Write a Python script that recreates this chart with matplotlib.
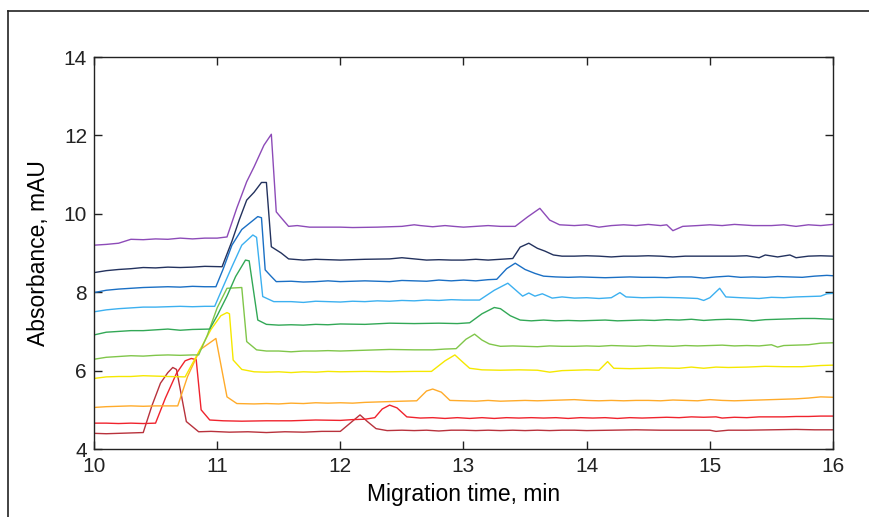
import matplotlib
matplotlib.use("Agg")
from matplotlib import pyplot as plt
from matplotlib.lines import Line2D

plt.rcParams['font.family'] = ['Liberation Sans', 'DejaVu Sans']

# migration time (min) / absorbance (mAU), one pair per run, bottom to top
t_darkred = [10.0, 10.1, 10.2, 10.3, 10.4, 10.47, 10.54, 10.6, 10.64, 10.67, 10.75, 10.85, 10.95, 11.1, 11.25,
             11.4, 11.55, 11.7, 11.85, 12.0, 12.08, 12.16, 12.22, 12.29, 12.38, 12.5, 12.6, 12.7, 12.8, 12.9,
             13.0, 13.1, 13.2, 13.3, 13.4, 13.5, 13.6, 13.7, 13.8, 13.9, 14.0, 14.2, 14.4, 14.6, 14.8, 15.0,
             15.05, 15.15, 15.3, 15.5, 15.7, 15.85, 16.0]
a_darkred = [4.40, 4.39, 4.40, 4.41, 4.42, 5.1, 5.68, 5.95, 6.08, 6.03, 4.70, 4.44, 4.45, 4.43, 4.44,
             4.42, 4.44, 4.43, 4.45, 4.45, 4.66, 4.87, 4.70, 4.52, 4.47, 4.48, 4.47, 4.48, 4.46, 4.48,
             4.48, 4.47, 4.48, 4.47, 4.48, 4.47, 4.48, 4.47, 4.48, 4.48, 4.47, 4.48, 4.49, 4.48, 4.48, 4.48,
             4.45, 4.48, 4.48, 4.49, 4.50, 4.49, 4.49]

t_red = [10.0, 10.1, 10.2, 10.3, 10.4, 10.5, 10.58, 10.67, 10.74, 10.79, 10.83, 10.87, 10.94, 11.05, 11.2,
         11.4, 11.6, 11.8, 12.0, 12.1, 12.2, 12.28, 12.34, 12.40, 12.46, 12.54, 12.65, 12.75, 12.85, 12.95,
         13.05, 13.15, 13.25, 13.35, 13.45, 13.55, 13.65, 13.75, 13.85, 13.95, 14.05, 14.15, 14.25, 14.35,
         14.45, 14.55, 14.65, 14.75, 14.85, 14.95, 15.05, 15.1, 15.2, 15.3, 15.4, 15.5, 15.6, 15.7, 15.8,
         15.9, 16.0]
a_red = [4.66, 4.66, 4.65, 4.66, 4.65, 4.66, 5.3, 5.93, 6.25, 6.31, 6.28, 5.0, 4.74, 4.72, 4.71,
         4.72, 4.72, 4.74, 4.73, 4.75, 4.76, 4.80, 5.02, 5.12, 5.05, 4.82, 4.79, 4.80, 4.78, 4.80,
         4.78, 4.80, 4.78, 4.80, 4.79, 4.80, 4.79, 4.80, 4.78, 4.80, 4.79, 4.80, 4.78, 4.80,
         4.79, 4.80, 4.81, 4.80, 4.82, 4.81, 4.82, 4.79, 4.81, 4.80, 4.82, 4.82, 4.82, 4.83, 4.83,
         4.84, 4.84]

t_orange = [10.0, 10.1, 10.2, 10.3, 10.4, 10.5, 10.6, 10.68, 10.76, 10.86, 10.99, 11.08, 11.16, 11.3, 11.4,
            11.5, 11.6, 11.7, 11.8, 11.9, 12.0, 12.1, 12.2, 12.3, 12.4, 12.5, 12.62, 12.7, 12.75, 12.82,
            12.89, 13.0, 13.1, 13.2, 13.3, 13.4, 13.5, 13.6, 13.7, 13.8, 13.9, 14.0, 14.1, 14.2, 14.3,
            14.4, 14.5, 14.6, 14.7, 14.8, 14.9, 15.0, 15.1, 15.2, 15.3, 15.4, 15.5, 15.6, 15.7, 15.8,
            15.9, 16.0]
a_orange = [5.06, 5.08, 5.09, 5.10, 5.09, 5.10, 5.10, 5.10, 5.85, 6.53, 6.82, 5.33, 5.16, 5.15, 5.16,
            5.15, 5.17, 5.16, 5.18, 5.17, 5.18, 5.17, 5.19, 5.20, 5.21, 5.22, 5.23, 5.48, 5.53, 5.45,
            5.24, 5.23, 5.22, 5.24, 5.22, 5.23, 5.24, 5.23, 5.24, 5.25, 5.26, 5.24, 5.23, 5.24, 5.23,
            5.24, 5.24, 5.23, 5.25, 5.24, 5.23, 5.26, 5.24, 5.23, 5.24, 5.25, 5.26, 5.27, 5.28, 5.30,
            5.33, 5.32]

t_yellow = [10.0, 10.1, 10.2, 10.3, 10.4, 10.5, 10.6, 10.74, 10.86, 10.95, 11.03, 11.08, 11.1, 11.13, 11.2,
            11.3, 11.4, 11.5, 11.6, 11.7, 11.8, 11.9, 12.0, 12.2, 12.4, 12.6, 12.74, 12.85, 12.93, 13.0,
            13.05, 13.15, 13.3, 13.45, 13.6, 13.7, 13.8, 13.9, 14.0, 14.1, 14.17, 14.22, 14.35, 14.5, 14.6,
            14.75, 14.85, 14.95, 15.05, 15.15, 15.3, 15.45, 15.6, 15.75, 15.9, 16.0]
a_yellow = [5.80, 5.84, 5.85, 5.85, 5.87, 5.86, 5.85, 5.84, 6.53, 7.05, 7.40, 7.48, 7.45, 6.27, 6.03,
            5.97, 5.96, 5.97, 5.95, 5.97, 5.96, 5.98, 5.97, 5.98, 5.97, 5.98, 5.98, 6.25, 6.40, 6.20,
            6.06, 6.02, 6.01, 6.02, 6.01, 5.96, 6.00, 6.01, 6.02, 6.01, 6.23, 6.06, 6.05, 6.06, 6.07,
            6.06, 6.09, 6.06, 6.09, 6.08, 6.09, 6.11, 6.10, 6.10, 6.13, 6.14]

t_lgreen = [10.0, 10.1, 10.2, 10.3, 10.4, 10.5, 10.6, 10.7, 10.8, 10.85, 10.92, 11.0, 11.08, 11.2, 11.24,
            11.32, 11.4, 11.5, 11.6, 11.7, 11.8, 11.9, 12.0, 12.2, 12.4, 12.6, 12.75, 12.85, 12.94, 13.02,
            13.09, 13.15, 13.21, 13.3, 13.4, 13.5, 13.6, 13.7, 13.8, 13.9, 14.0, 14.1, 14.2, 14.3, 14.4,
            14.5, 14.6, 14.7, 14.8, 14.9, 15.0, 15.1, 15.2, 15.3, 15.4, 15.5, 15.55, 15.6, 15.7, 15.8,
            15.9, 16.0]
a_lgreen = [6.29, 6.34, 6.36, 6.38, 6.37, 6.39, 6.40, 6.39, 6.40, 6.40, 6.90, 7.60, 8.10, 8.12, 6.74,
            6.53, 6.50, 6.50, 6.48, 6.50, 6.50, 6.51, 6.50, 6.52, 6.54, 6.53, 6.53, 6.55, 6.56, 6.80,
            6.93, 6.78, 6.68, 6.62, 6.63, 6.62, 6.61, 6.63, 6.62, 6.62, 6.63, 6.62, 6.64, 6.63, 6.62,
            6.64, 6.63, 6.62, 6.64, 6.63, 6.64, 6.65, 6.63, 6.64, 6.63, 6.66, 6.60, 6.64, 6.65, 6.66,
            6.70, 6.71]

t_green = [10.0, 10.1, 10.2, 10.3, 10.4, 10.5, 10.6, 10.7, 10.8, 10.94, 11.0, 11.08, 11.15, 11.23, 11.26,
           11.33, 11.4, 11.5, 11.6, 11.7, 11.8, 11.9, 12.0, 12.2, 12.4, 12.6, 12.8, 12.95, 13.05, 13.15,
           13.25, 13.3, 13.38, 13.46, 13.55, 13.65, 13.75, 13.85, 13.95, 14.05, 14.15, 14.25, 14.35, 14.45,
           14.55, 14.65, 14.75, 14.85, 14.95, 15.05, 15.15, 15.25, 15.35, 15.45, 15.55, 15.65, 15.75, 15.85,
           16.0]
a_green = [6.91, 6.98, 7.00, 7.02, 7.02, 7.04, 7.06, 7.03, 7.05, 7.06, 7.40, 7.90, 8.40, 8.82, 8.80,
           7.29, 7.18, 7.16, 7.17, 7.16, 7.18, 7.17, 7.19, 7.18, 7.21, 7.20, 7.21, 7.20, 7.22, 7.45,
           7.61, 7.58, 7.40, 7.29, 7.27, 7.29, 7.27, 7.28, 7.27, 7.28, 7.29, 7.27, 7.28, 7.29,
           7.28, 7.30, 7.29, 7.31, 7.28, 7.30, 7.31, 7.30, 7.27, 7.30, 7.31, 7.32, 7.33, 7.33,
           7.31]

t_lblue = [10.0, 10.1, 10.2, 10.3, 10.4, 10.5, 10.6, 10.7, 10.8, 10.9, 10.98, 11.05, 11.12, 11.2, 11.29,
           11.32, 11.37, 11.46, 11.6, 11.7, 11.8, 11.9, 12.0, 12.1, 12.2, 12.3, 12.4, 12.5, 12.6, 12.7,
           12.8, 12.9, 13.0, 13.13, 13.25, 13.36, 13.48, 13.53, 13.58, 13.64, 13.72, 13.8, 13.9, 14.0, 14.1,
           14.2, 14.27, 14.32, 14.45, 14.6, 14.75, 14.9, 14.95, 15.0, 15.08, 15.13, 15.25, 15.4, 15.5, 15.6,
           15.7, 15.8, 15.9, 15.95, 16.0]
a_lblue = [7.50, 7.55, 7.58, 7.60, 7.62, 7.62, 7.63, 7.64, 7.63, 7.64, 7.64, 8.15, 8.65, 9.20, 9.46,
           9.40, 7.89, 7.76, 7.76, 7.74, 7.77, 7.76, 7.75, 7.77, 7.76, 7.78, 7.77, 7.79, 7.78, 7.80,
           7.79, 7.81, 7.80, 7.80, 8.05, 8.23, 7.90, 7.98, 7.90, 7.96, 7.85, 7.88, 7.85, 7.86, 7.84,
           7.86, 7.99, 7.88, 7.86, 7.87, 7.86, 7.84, 7.79, 7.86, 8.10, 7.88, 7.86, 7.84, 7.87, 7.86,
           7.88, 7.89, 7.90, 7.96, 7.97]

t_blue = [10.0, 10.1, 10.2, 10.3, 10.4, 10.5, 10.6, 10.7, 10.8, 10.9, 10.99, 11.05, 11.12, 11.2, 11.33,
          11.36, 11.39, 11.44, 11.48, 11.6, 11.7, 11.8, 11.9, 12.0, 12.1, 12.2, 12.3, 12.4, 12.5, 12.6,
          12.7, 12.8, 12.9, 13.0, 13.1, 13.2, 13.27, 13.35, 13.42, 13.5, 13.58, 13.65, 13.75, 13.85, 13.95,
          14.05, 14.15, 14.25, 14.35, 14.45, 14.55, 14.65, 14.75, 14.85, 14.95, 15.05, 15.15, 15.25, 15.35,
          15.45, 15.55, 15.65, 15.75, 15.85, 15.95, 16.0]
a_blue = [7.99, 8.05, 8.08, 8.10, 8.12, 8.13, 8.14, 8.13, 8.15, 8.14, 8.14, 8.60, 9.20, 9.60, 9.93,
          9.90, 8.57, 8.40, 8.27, 8.28, 8.26, 8.27, 8.29, 8.27, 8.28, 8.29, 8.28, 8.27, 8.30, 8.29,
          8.28, 8.31, 8.29, 8.31, 8.29, 8.32, 8.33, 8.60, 8.74, 8.58, 8.48, 8.41, 8.39, 8.38, 8.39,
          8.38, 8.37, 8.38, 8.39, 8.38, 8.38, 8.37, 8.39, 8.39, 8.36, 8.39, 8.41, 8.38, 8.39,
          8.38, 8.40, 8.39, 8.38, 8.41, 8.43, 8.42]

t_navy = [10.0, 10.1, 10.2, 10.3, 10.4, 10.5, 10.6, 10.7, 10.8, 10.9, 11.04, 11.12, 11.18, 11.24, 11.30,
          11.36, 11.40, 11.44, 11.52, 11.58, 11.7, 11.8, 12.0, 12.2, 12.4, 12.5, 12.6, 12.7, 12.8, 12.9,
          13.0, 13.1, 13.2, 13.3, 13.40, 13.46, 13.53, 13.6, 13.66, 13.73, 13.8, 13.9, 14.0, 14.1, 14.2,
          14.3, 14.4, 14.5, 14.6, 14.7, 14.8, 14.9, 15.0, 15.1, 15.2, 15.3, 15.4, 15.45, 15.55, 15.65,
          15.7, 15.8, 15.9, 16.0]
a_navy = [8.50, 8.55, 8.58, 8.60, 8.63, 8.62, 8.64, 8.63, 8.64, 8.66, 8.65, 9.30, 9.85, 10.35, 10.55,
          10.80, 10.80, 9.16, 9.00, 8.85, 8.82, 8.84, 8.82, 8.84, 8.85, 8.88, 8.85, 8.82, 8.83, 8.82,
          8.82, 8.84, 8.82, 8.84, 8.86, 9.15, 9.25, 9.12, 9.05, 8.95, 8.92, 8.92, 8.93, 8.92, 8.90,
          8.92, 8.92, 8.93, 8.92, 8.90, 8.92, 8.92, 8.92, 8.92, 8.92, 8.93, 8.88, 8.95, 8.90, 8.95,
          8.88, 8.92, 8.93, 8.92]

t_purple = [10.0, 10.1, 10.2, 10.3, 10.4, 10.5, 10.6, 10.7, 10.8, 10.9, 11.0, 11.08, 11.16, 11.24, 11.30,
            11.38, 11.44, 11.48, 11.52, 11.58, 11.65, 11.75, 11.9, 12.0, 12.1, 12.3, 12.5, 12.6, 12.65,
            12.75, 12.85, 12.92, 13.0, 13.1, 13.2, 13.3, 13.42, 13.52, 13.62, 13.70, 13.78, 13.9, 14.0,
            14.1, 14.2, 14.3, 14.4, 14.5, 14.6, 14.65, 14.7, 14.78, 14.9, 15.0, 15.1, 15.2, 15.35, 15.5,
            15.6, 15.7, 15.8, 15.9, 16.0]
a_purple = [9.20, 9.22, 9.25, 9.35, 9.34, 9.36, 9.35, 9.38, 9.36, 9.38, 9.38, 9.41, 10.15, 10.82, 11.2,
            11.75, 12.03, 10.05, 9.90, 9.68, 9.70, 9.66, 9.66, 9.66, 9.65, 9.66, 9.68, 9.72, 9.70,
            9.67, 9.70, 9.68, 9.66, 9.68, 9.70, 9.68, 9.68, 9.92, 10.14, 9.84, 9.72, 9.70, 9.72,
            9.66, 9.70, 9.72, 9.70, 9.73, 9.70, 9.72, 9.57, 9.68, 9.70, 9.72, 9.70, 9.73, 9.70, 9.70,
            9.72, 9.68, 9.72, 9.70, 9.73]

runs = [(t_darkred, a_darkred, '#b8323c'), (t_red, a_red, '#f0232d'), (t_orange, a_orange, '#ffab2a'),
        (t_yellow, a_yellow, '#f5e800'), (t_lgreen, a_lgreen, '#80c64a'), (t_green, a_green, '#32a856'),
        (t_lblue, a_lblue, '#3cb0f0'), (t_blue, a_blue, '#1a6fc4'), (t_navy, a_navy, '#23325e'),
        (t_purple, a_purple, '#8d4bb8')]

fig = plt.figure(figsize=(8.7, 5.17), dpi=100)
ax = fig.add_axes([0.108, 0.1315, 0.8495, 0.7582])

for t, a, c in runs:
    ax.plot(t, a, color=c, lw=1.0)

ax.set_xlim(10, 16)
ax.set_ylim(4, 14)
ax.set_xticks([10, 11, 12, 13, 14, 15, 16])
ax.set_yticks([4, 6, 8, 10, 12, 14])
ax.tick_params(direction='in', top=True, right=True, length=6, width=1, labelsize=15, colors='#222222')
ax.tick_params(axis='x', pad=6)
ax.tick_params(axis='y', pad=5)
for s in ax.spines.values():
    s.set_linewidth(1.0)
    s.set_color('#222222')
ax.set_xlabel('Migration time, min', fontsize=16.5, labelpad=5)
ax.set_ylabel('Absorbance, mAU', fontsize=16.5, labelpad=10)

# outer frame of the original figure panel
fig.add_artist(Line2D([0.0092, 0.0092], [0, 0.9787], color='#222222', lw=1.2))
fig.add_artist(Line2D([0.0092, 1.0], [0.9787, 0.9787], color='#222222', lw=1.2))

fig.savefig('out.png', dpi=100)
